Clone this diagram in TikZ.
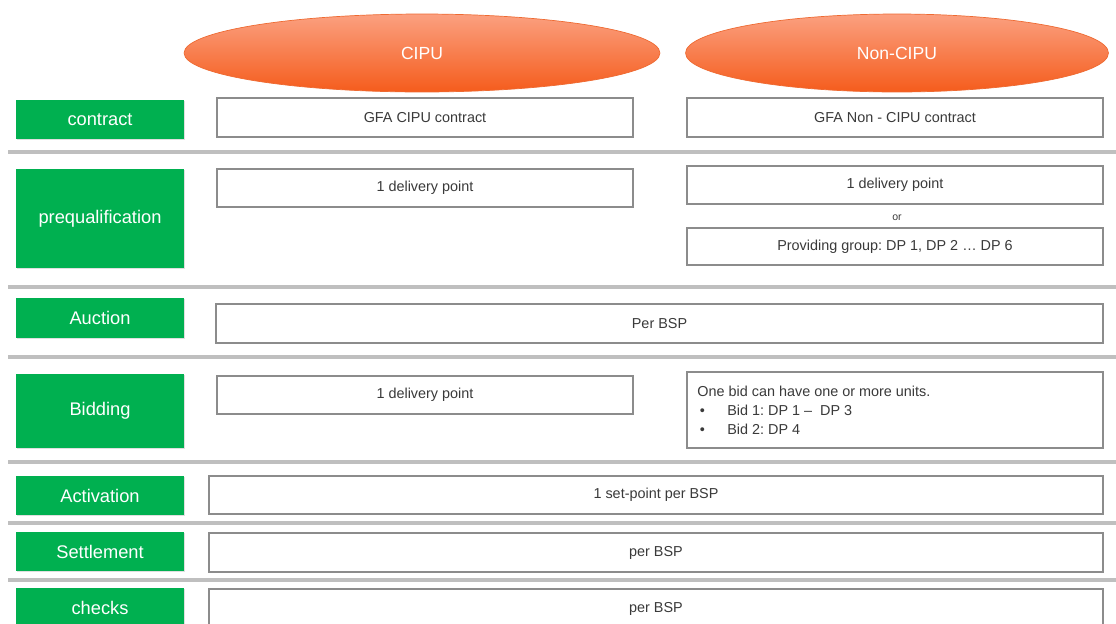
\documentclass[tikz,border=0pt]{standalone}
\usepackage{fontspec}
\setmainfont{Liberation Sans}
\usetikzlibrary{shapes.geometric}
\usetikzlibrary{shadows}
\frenchspacing

\definecolor{phasegreen}{HTML}{00B050}
\definecolor{cellgray}{HTML}{8C8C8C}
\definecolor{sepgray}{HTML}{BFBFBF}
\definecolor{celltext}{HTML}{3A3A3A}
\definecolor{ovaltop}{HTML}{FBA080}
\definecolor{ovalbottom}{HTML}{F55C1C}
\definecolor{ovaldraw}{HTML}{EE6A32}

\begin{document}
\begin{tikzpicture}[x=0.02cm,y=-0.02cm]
    \tikzstyle{Column} = [
            ellipse,
            draw=ovaldraw,
            top color=ovaltop,
            bottom color=ovalbottom,
            inner sep=0pt,
            minimum height=1.56cm,
            text=white,
            font={\fontsize{10}{12}\selectfont}
    ];
    \tikzstyle{Phase} = [
            rectangle,
            fill=phasegreen,
            inner sep=0pt,
            minimum width=3.36cm,
            text=white,
            font={\fontsize{10.4}{12}\selectfont},
            drop shadow={opacity=0.25,shadow xshift=0.6pt,shadow yshift=-0.6pt}
    ];
    \tikzstyle{Cell} = [
            rectangle,
            draw=cellgray,
            fill=white,
            line width=0.7pt,
            inner sep=0pt,
            text=celltext,
            font={\fontsize{8.2}{10.8}\selectfont},
            drop shadow={opacity=0.2,shadow xshift=0.6pt,shadow yshift=-0.6pt}
    ];
    \tikzstyle{HalfCell} = [
            Cell,
            minimum width=8.32cm
    ];
    \tikzstyle{Separator} = [
            draw=sepgray,
            line width=2.3pt
    ];

    \useasboundingbox (0,0) rectangle (1116,623);

    % column heads
    \node[Column, name=Cipu,    minimum width=9.52cm] at (422,53) {CIPU};
    \node[Column, name=NonCipu, minimum width=8.46cm] at (897,53) {Non-CIPU};

    % separators
    \foreach \y in {152,287,357,462,523,580}
        \draw[Separator] (8,\y) -- (1116,\y);

    % phases
    \node[Phase, name=Contract,   minimum height=0.78cm] at (100,119.5) {contract};
    \node[Phase, name=Prequal,    minimum height=1.98cm] at (100,218.5) {prequalification};
    \node[Phase, name=Auction,    minimum height=0.80cm] at (100,318)   {Auction};
    \node[Phase, name=Bidding,    minimum height=1.48cm] at (100,411)   {Bidding};
    \node[Phase, name=Activation, minimum height=0.78cm] at (100,495.5) {Activation};
    \node[Phase, name=Settlement, minimum height=0.78cm] at (100,551.5) {Settlement};
    \node[Phase, name=Checks,     minimum height=0.80cm] at (100,608)   {checks};

    % cells
    \node[HalfCell, name=ContractCipu, minimum height=0.78cm] at (425,117.5) {GFA CIPU contract};
    \node[HalfCell, name=ContractNon,  minimum height=0.78cm] at (895,117.5) {GFA Non - CIPU contract};
    \node[HalfCell, name=PrequalCipu,  minimum height=0.76cm] at (425,188)   {1 delivery point};
    \node[HalfCell, name=PrequalNon,   minimum height=0.76cm] at (895,185)   {1 delivery point};
    \node[text=celltext, font={\fontsize{6}{7}\selectfont}, name=PrequalOr] at (897,218) {or};
    \node[HalfCell, name=PrequalGroup, minimum height=0.74cm] at (895,246.5) {Providing group: DP 1, DP 2 \dots\ DP 6};
    \node[Cell, name=AuctionAll, minimum width=17.74cm, minimum height=0.78cm] at (659.5,323.5) {Per BSP};
    \node[HalfCell, name=BiddingCipu,  minimum height=0.76cm] at (425,395)   {1 delivery point};
    \node[HalfCell, name=BiddingNon,   minimum height=1.52cm] at (895,410)   {};
    \node[text=celltext, font={\fontsize{8.2}{10.8}\selectfont}, align=left, anchor=north west, inner sep=0pt, name=BiddingText]
        at (697,386) {One bid can have one or more units.\\
        \makebox[0.6cm][l]{\hspace{0.05cm}\textbullet}Bid 1: DP 1 --\ \ DP 3\\
        \makebox[0.6cm][l]{\hspace{0.05cm}\textbullet}Bid 2: DP 4};
    \node[Cell, name=ActivationAll, minimum width=17.88cm, minimum height=0.76cm] at (656,495)   {1 set-point per BSP};
    \node[Cell, name=SettlementAll, minimum width=17.88cm, minimum height=0.78cm] at (656,552.5) {per BSP};
    \node[Cell, name=ChecksAll,     minimum width=17.88cm, minimum height=0.78cm] at (656,608.5) {per BSP};
\end{tikzpicture}
\end{document}
